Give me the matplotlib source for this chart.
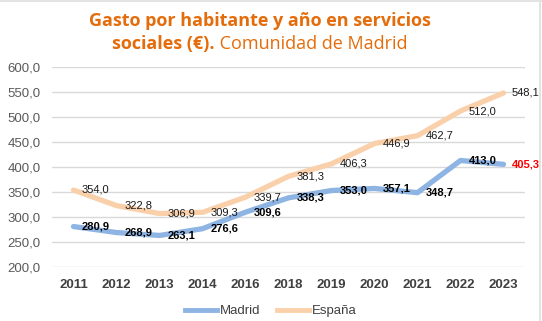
import matplotlib
matplotlib.use("Agg")
import matplotlib.pyplot as plt
from matplotlib.lines import Line2D

years = ["2011", "2012", "2013", "2014", "2016", "2018", "2019", "2020", "2021", "2022", "2023"]
madrid = [280.9, 268.9, 263.1, 276.6, 309.6, 338.3, 353.0, 357.1, 348.7, 413.0, 405.3]
espana = [354.0, 322.8, 306.9, 309.3, 339.7, 381.3, 406.3, 446.9, 462.7, 512.0, 548.1]
yticks = [200, 250, 300, 350, 400, 450, 500, 550, 600]

blue = "#8EB4E3"
peach = "#FAD0AA"
orange = "#E46C0A"
W, H = 542, 321

fig = plt.figure(figsize=(W / 100, H / 100), dpi=100)
# plot area in pixel units
ax = fig.add_axes([52 / W, 1 - 267 / H, (525 - 52) / W, 200 / H])

x = list(range(len(years)))
ax.plot(x, espana, color=peach, lw=3.8, solid_capstyle="round", solid_joinstyle="round", zorder=3)
ax.plot(x, madrid, color=blue, lw=3.8, solid_capstyle="round", solid_joinstyle="round", zorder=3)

def fmt(v):
    return f"{v:.1f}".replace(".", ",")

for i, v in enumerate(espana):
    ax.annotate(fmt(v), (i, v), xytext=(8, 0), textcoords="offset pixels",
                ha="left", va="center", fontsize=8, family="Liberation Sans",
                color="#1a1a1a", zorder=5, annotation_clip=False)
for i, v in enumerate(madrid):
    col = "#FF0000" if i == len(madrid) - 1 else "#000000"
    ax.annotate(fmt(v), (i, v), xytext=(8, 0), textcoords="offset pixels",
                ha="left", va="center", fontsize=8, family="Liberation Sans",
                fontweight="bold", color=col, zorder=5, annotation_clip=False)

ax.set_xlim(-0.5, len(years) - 0.5)
ax.set_ylim(200, 600)
ax.set_yticks(yticks)
ax.set_yticklabels([fmt(t) for t in yticks], family="Liberation Sans", fontsize=9.5, color="#595959")
ax.set_xticks(x)
ax.set_xticklabels(years, family="Liberation Sans", fontsize=9.5, fontweight="bold", color="#404040")
ax.tick_params(length=0, axis="y", pad=8)
ax.tick_params(length=0, axis="x", pad=9)
ax.grid(axis="y", color="#D9D9D9", lw=1)
ax.set_axisbelow(True)
for s in ax.spines.values():
    s.set_visible(False)

handles = [Line2D([], [], color=blue, lw=3.5), Line2D([], [], color=peach, lw=3.5)]
fig.legend(handles, ["Madrid", "España"], loc="center", bbox_to_anchor=(271 / W, 1 - 311 / H),
           ncol=2, frameon=False, handlelength=2.4, handletextpad=0.2, columnspacing=1.3,
           prop={"family": "Liberation Sans", "size": 9.5}, labelcolor="#404040")

# title: bold first part, regular tail on the second line
tfont = {"family": "Open Sans", "size": 13, "color": orange}
fig.text(260 / W, 1 - 21 / H, "Gasto por habitante y año en servicios", ha="center", va="center",
         fontweight="bold", **tfont)
t1 = fig.text(0, 1 - 44 / H, "sociales (€).", ha="left", va="center", fontweight="bold", **tfont)
t2 = fig.text(0, 1 - 44 / H, " Comunidad de Madrid", ha="left", va="center", **tfont)
r = fig.canvas.get_renderer()
w1 = t1.get_window_extent(r).width
w2 = t2.get_window_extent(r).width
x0 = 260 - (w1 + w2) / 2
t1.set_x(x0 / W)
t2.set_x((x0 + w1) / W)

# thin frame edges along the top and right
fig.add_artist(plt.Rectangle((0, 1 - 2 / H), 1, 2 / H, transform=fig.transFigure, color="#E3E3E3", lw=0))
fig.add_artist(plt.Rectangle((539 / W, 0), 2 / W, 1, transform=fig.transFigure, color="#E3E3E3", lw=0))

fig.savefig("out.png", dpi=100)
